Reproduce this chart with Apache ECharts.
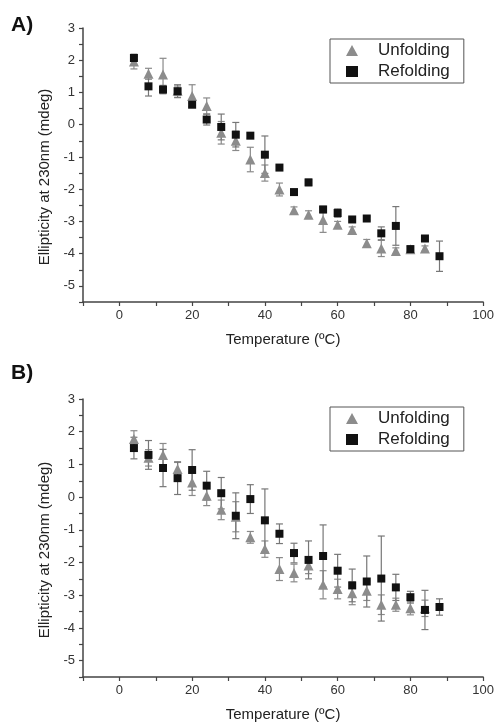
<!DOCTYPE html>
<html>
<head>
<meta charset="utf-8">
<script src="https://cdn.jsdelivr.net/npm/echarts@6/dist/echarts.min.js"></script>
<style>
html, body { margin: 0; padding: 0; background: #fff; }
#chart { width: 497px; height: 727px; }
</style>
</head>
<body>
<div id="chart"></div>
<script>
var chart = echarts.init(document.getElementById("chart"));

// temperatures (ºC)
let tempsRef = [4, 8, 12, 16, 20, 24, 28, 32, 36, 40, 44, 48, 52, 56, 60, 64, 68, 72, 76, 80, 84, 88];
let tempsUnf = [4, 8, 12, 16, 20, 24, 28, 32, 36, 40, 44, 48, 52, 56, 60, 64, 68, 72, 76, 80, 84];

// panel A
let unfA    = [1.96, 1.58, 1.56, 1.05, 0.89, 0.58, -0.25, -0.5, -1.08, -1.5, -2.01, -2.65, -2.79, -2.96, -3.1, -3.27, -3.68, -3.84, -3.92, -3.86, -3.84];
let unfAErr = [0.23, 0.17, 0.5, 0.15, 0.35, 0.25, 0.35, 0.3, 0.38, 0.25, 0.2, 0.1, 0.12, 0.38, 0.1, 0.1, 0.12, 0.25, 0.1, 0.08, 0.08];
let refA    = [2.07, 1.19, 1.09, 1.04, 0.62, 0.16, -0.07, -0.31, -0.34, -0.93, -1.33, -2.09, -1.79, -2.63, -2.74, -2.94, -2.91, -3.37, -3.14, -3.86, -3.53, -4.08];
let refAErr = [0.05, 0.3, 0.13, 0.2, 0.05, 0.17, 0.4, 0.38, 0.08, 0.58, 0.05, 0.05, 0.1, 0.1, 0.13, 0.05, 0.05, 0.2, 0.6, 0.1, 0.05, 0.47];

// panel B
let unfB    = [1.78, 1.2, 1.29, 0.86, 0.45, 0.04, -0.39, -0.6, -1.23, -1.59, -2.2, -2.32, -2.09, -2.68, -2.81, -2.94, -2.86, -3.29, -3.29, -3.4, -3.4];
let unfBErr = [0.25, 0.25, 0.35, 0.2, 0.4, 0.3, 0.3, 0.46, 0.18, 0.25, 0.35, 0.27, 0.25, 0.43, 0.3, 0.35, 0.3, 0.3, 0.2, 0.2, 0.25];
let refB    = [1.5, 1.29, 0.89, 0.58, 0.83, 0.35, 0.12, -0.57, -0.06, -0.71, -1.12, -1.71, -1.92, -1.8, -2.25, -2.7, -2.58, -2.49, -2.76, -3.06, -3.45, -3.36];
let refBErr = [0.33, 0.44, 0.57, 0.5, 0.62, 0.44, 0.48, 0.7, 0.44, 0.96, 0.3, 0.3, 0.58, 0.95, 0.5, 0.5, 0.78, 1.3, 0.4, 0.18, 0.6, 0.25];

let fontFam = "'Liberation Sans', Arial, sans-serif";

function pairs(xs, ys) {
  return xs.map(function (x, i) { return [x, ys[i]]; });
}
function bars(xs, ys, es) {
  return xs.map(function (x, i) { return [x, ys[i] - es[i], ys[i] + es[i]]; });
}

function errorSeries(name, idx, data, color) {
  return {
    type: "custom",
    name: name,
    xAxisIndex: idx,
    yAxisIndex: idx,
    data: data,
    silent: true,
    z: 1,
    renderItem: function (params, api) {
      var lo = api.coord([api.value(0), api.value(1)]);
      var hi = api.coord([api.value(0), api.value(2)]);
      var w = 3.5;
      var st = { stroke: color, lineWidth: 1.2 };
      return {
        type: "group",
        children: [
          { type: "line", shape: { x1: lo[0], y1: lo[1], x2: hi[0], y2: hi[1] }, style: st },
          { type: "line", shape: { x1: lo[0] - w, y1: lo[1], x2: lo[0] + w, y2: lo[1] }, style: st },
          { type: "line", shape: { x1: hi[0] - w, y1: hi[1], x2: hi[0] + w, y2: hi[1] }, style: st }
        ]
      };
    }
  };
}

function xAx(idx) {
  return {
    gridIndex: idx,
    type: "value",
    min: -10,
    max: 100,
    interval: 10,
    name: "Temperature (ºC)",
    nameLocation: "middle",
    nameGap: 30,
    nameTextStyle: { fontSize: 15, color: "#222", fontFamily: fontFam },
    axisLine: { onZero: false, lineStyle: { color: "#444", width: 1.5 } },
    axisTick: { length: 4, lineStyle: { color: "#444", width: 1.2 } },
    axisLabel: {
      color: "#333", fontSize: 13, margin: 7, fontFamily: fontFam,
      formatter: function (v) { return v % 20 === 0 ? String(v) : ""; }
    },
    splitLine: { show: false }
  };
}

function yAx(idx) {
  return {
    gridIndex: idx,
    type: "value",
    min: -5.5,
    max: 3,
    interval: 0.5,
    name: "Ellipticity at 230nm (mdeg)",
    nameLocation: "middle",
    nameGap: 30,
    nameTextStyle: { fontSize: 15, color: "#222", fontFamily: fontFam, padding: [0, 24, 0, 0] },
    axisLine: { onZero: false, lineStyle: { color: "#444", width: 1.5 } },
    axisTick: { length: 4, lineStyle: { color: "#444", width: 1.2 } },
    axisLabel: {
      color: "#333", fontSize: 13, margin: 8, fontFamily: fontFam,
      formatter: function (v) { return Number.isInteger(v) ? String(v) : ""; }
    },
    splitLine: { show: false }
  };
}

function legendAt(top) {
  return {
    left: 330,
    top: top,
    orient: "vertical",
    data: [{ name: "Unfolding", icon: "triangle" }, { name: "Refolding", icon: "rect" }],
    itemWidth: 12,
    itemHeight: 11,
    itemGap: 4,
    padding: [3, 14, 3, 16],
    borderColor: "#555",
    borderWidth: 1,
    selectedMode: false,
    textStyle: { fontSize: 17, color: "#222", fontFamily: fontFam, padding: [0, 0, 0, 15] }
  };
}

chart.setOption({
  animation: false,
  backgroundColor: "#fff",
  textStyle: { fontFamily: fontFam },
  graphic: [
    { type: "text", left: 11, top: 15, style: { text: "A)", font: "bold 21px " + fontFam, fill: "#111" } },
    { type: "text", left: 11, top: 363, style: { text: "B)", font: "bold 21px " + fontFam, fill: "#111" } }
  ],
  legend: [legendAt(39), legendAt(407)],
  grid: [
    { left: 83, right: 13, top: 28, height: 274 },
    { left: 83, right: 8, top: 399, height: 278 }
  ],
  xAxis: [xAx(0), xAx(1)],
  yAxis: [yAx(0), yAx(1)],
  series: [
    errorSeries("Unfolding err A", 0, bars(tempsUnf, unfA, unfAErr), "#8a8a8a"),
    errorSeries("Refolding err A", 0, bars(tempsRef, refA, refAErr), "#777"),
    {
      type: "scatter", name: "Unfolding", xAxisIndex: 0, yAxisIndex: 0,
      symbol: "triangle", symbolSize: 10, z: 2,
      itemStyle: { color: "#8c8c8c", opacity: 1 },
      data: pairs(tempsUnf, unfA)
    },
    {
      type: "scatter", name: "Refolding", xAxisIndex: 0, yAxisIndex: 0,
      symbol: "rect", symbolSize: 8, z: 3,
      itemStyle: { color: "#111", opacity: 1 },
      data: pairs(tempsRef, refA)
    },
    errorSeries("Unfolding err B", 1, bars(tempsUnf, unfB, unfBErr), "#8a8a8a"),
    errorSeries("Refolding err B", 1, bars(tempsRef, refB, refBErr), "#777"),
    {
      type: "scatter", name: "Unfolding", xAxisIndex: 1, yAxisIndex: 1,
      symbol: "triangle", symbolSize: 10, z: 2,
      itemStyle: { color: "#8c8c8c", opacity: 1 },
      data: pairs(tempsUnf, unfB)
    },
    {
      type: "scatter", name: "Refolding", xAxisIndex: 1, yAxisIndex: 1,
      symbol: "rect", symbolSize: 8, z: 3,
      itemStyle: { color: "#111", opacity: 1 },
      data: pairs(tempsRef, refB)
    }
  ]
});
</script>
</body>
</html>
